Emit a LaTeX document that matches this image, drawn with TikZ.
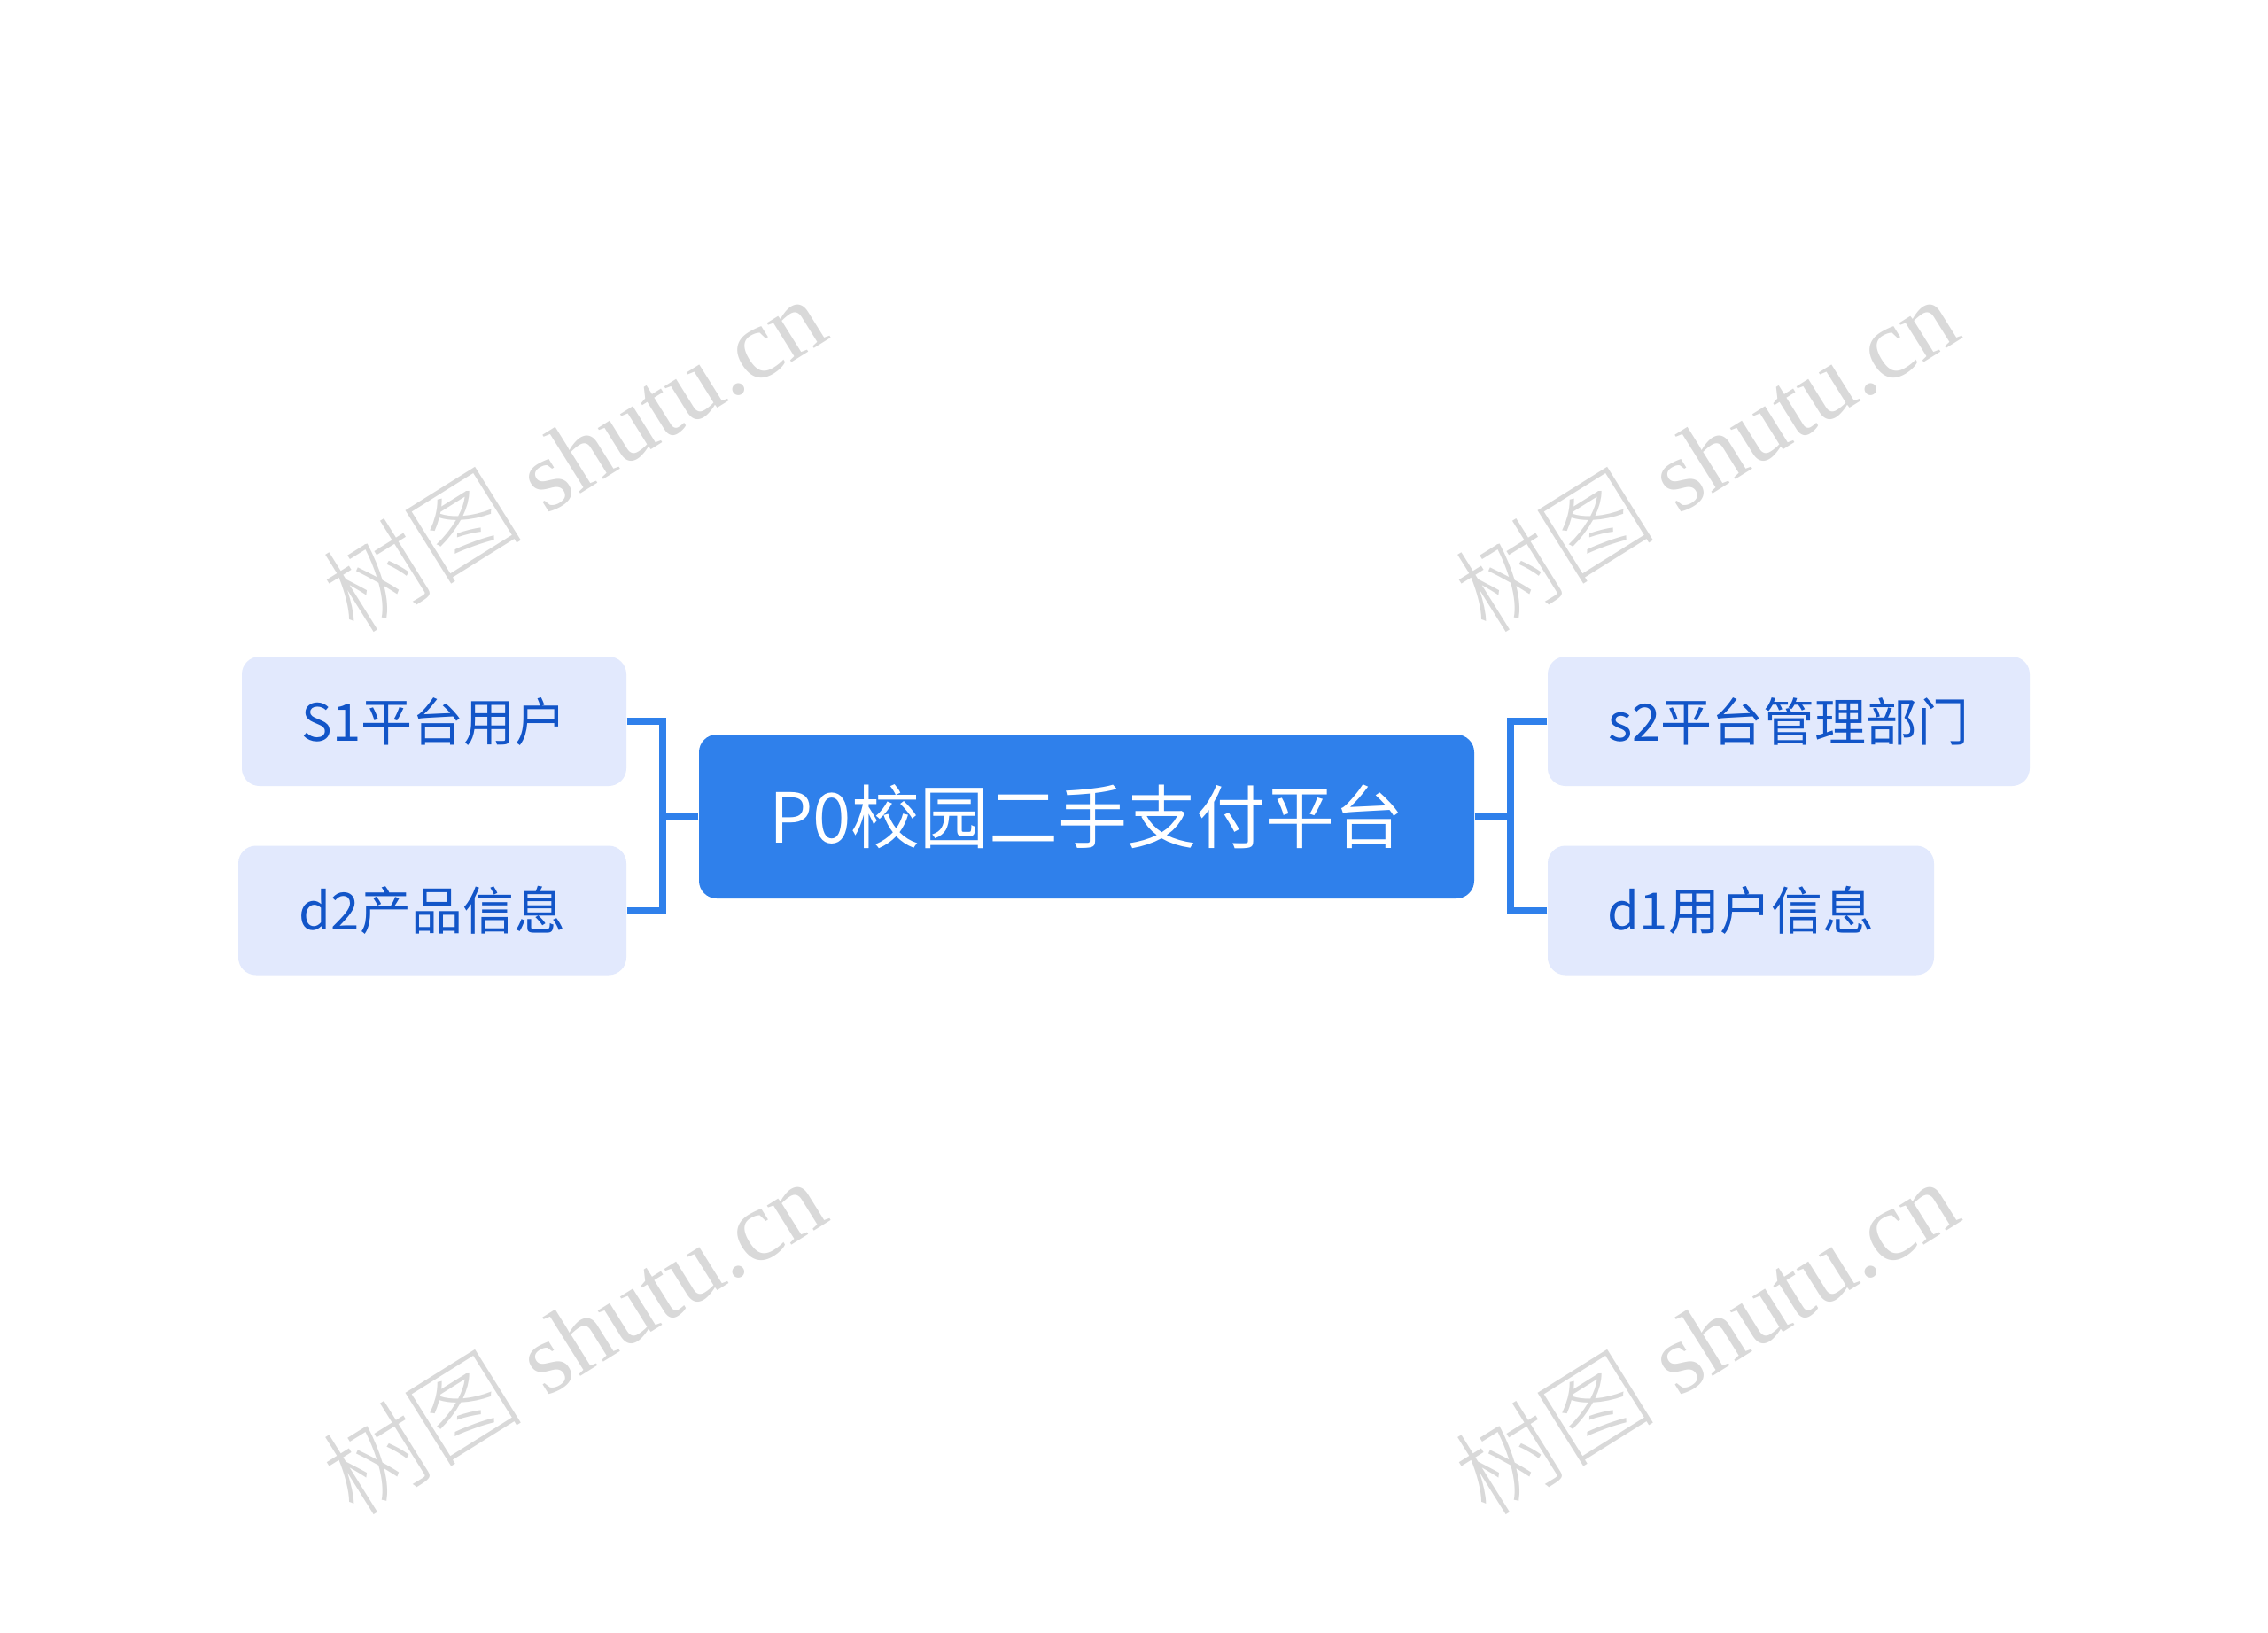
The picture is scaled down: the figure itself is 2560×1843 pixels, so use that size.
\documentclass[tikz,border=0pt]{standalone}
\usepackage{fontspec}
\newfontfamily\cjk{Noto Sans CJK SC}
\newfontfamily\cjklight{Noto Sans CJK SC Light}
\newfontfamily\wmserif{Liberation Serif}
\definecolor{mainblue}{HTML}{2F80EB}
\definecolor{childfill}{HTML}{E2E9FD}
\definecolor{childtext}{HTML}{1255C8}
\definecolor{wmgray}{HTML}{D9D9D9}
\tikzset{
  rootbox/.style={draw=none, fill=mainblue, rounded corners=6pt, text=white,
    font=\cjk\fontsize{23.4}{28}\selectfont, inner sep=0pt,
    minimum width=262.5pt, minimum height=55.5pt},
  childbox/.style={draw=none, fill=childfill, rounded corners=6pt, text=childtext,
    font=\cjk\fontsize{17.4}{21}\selectfont, inner sep=0pt, minimum height=43.8pt},
  link/.style={draw=mainblue, line width=2.2pt},
  watermark/.style={text=wmgray, rotate=32, inner sep=0pt,
    font=\fontsize{34}{38}\selectfont}
}
\begin{document}
\begin{tikzpicture}[x=0.3pt,y=-0.3pt]
\fill[white] (0,0) rectangle (2560,1843);
\useasboundingbox (0,0) rectangle (2560,1843);
% watermarks
\node[watermark] (w1) at (647,512) {\cjklight 树图\wmserif{} shutu.cn};
\node[watermark] (w2) at (1925,512) {\cjklight 树图\wmserif{} shutu.cn};
\node[watermark] (w3) at (647,1508) {\cjklight 树图\wmserif{} shutu.cn};
\node[watermark] (w4) at (1925,1508) {\cjklight 树图\wmserif{} shutu.cn};
% nodes
\node[rootbox] (root) at (1226.5,921.5) {P0校园二手支付平台};
\node[childbox, minimum width=130.2pt] (s1) at (490,814) {S1平台用户};
\node[childbox, minimum width=131.4pt] (d2) at (488,1027.5) {d2产品信息};
\node[childbox, minimum width=163.2pt] (s2) at (2019,814) {s2平台管理部门};
\node[childbox, minimum width=130.8pt] (d1) at (1965,1027.5) {d1用户信息};
% connectors
\coordinate (lj) at (748,921.5);
\coordinate (rj) at (1705,921.5);
\draw[link] (root.west) -- (lj);
\draw[link] (s1.east) -| (lj);
\draw[link] (d2.east) -| (lj);
\draw[link] (root.east) -- (rj);
\draw[link] (s2.west) -| (rj);
\draw[link] (d1.west) -| (rj);
\end{tikzpicture}
\end{document}
